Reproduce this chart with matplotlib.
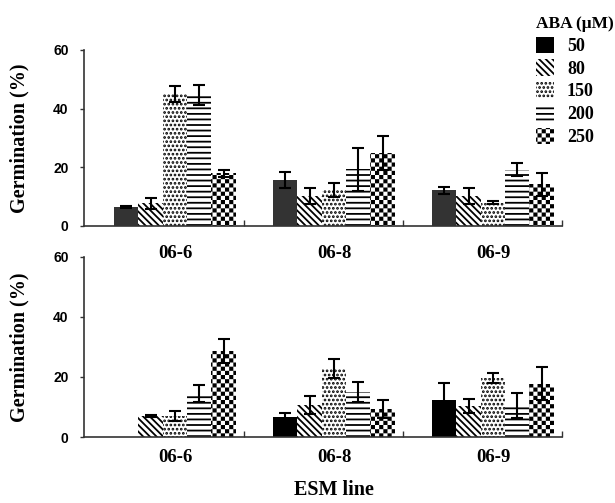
import warnings
import numpy as np
import matplotlib
matplotlib.use('Agg')
import matplotlib.pyplot as plt
import matplotlib.hatch as mhatch
from matplotlib.path import Path
from matplotlib.patches import Patch

warnings.filterwarnings('ignore', message='hatch must consist')

lines = ['06-6', '06-8', '06-9']
aba = ['50', '80', '150', '200', '250']

# germination (%) per ESM line (rows) and ABA dose (columns)
top_mean = np.array([[6.5, 7.7, 45.0, 44.6, 18.0],
                     [15.8, 10.3, 12.3, 19.3, 24.8],
                     [12.2, 10.2, 8.0, 19.2, 14.2]])
top_err = np.array([[0.3, 2.0, 2.7, 3.5, 1.2],
                    [2.7, 2.7, 2.5, 7.3, 5.8],
                    [1.2, 2.8, 0.5, 2.2, 4.0]])

bot_mean = np.array([[0.0, 7.0, 7.0, 14.5, 28.8],
                     [6.8, 10.8, 22.8, 15.0, 9.2],
                     [12.2, 10.3, 19.7, 10.6, 17.8]])
bot_err = np.array([[0.0, 0.4, 1.7, 2.9, 4.0],
                    [1.1, 3.0, 3.3, 3.3, 3.0],
                    [5.8, 2.4, 1.7, 4.2, 5.4]])

plt.rcParams['hatch.linewidth'] = 1.3
HLW = plt.rcParams['hatch.linewidth']


class CheckerHatch(mhatch.HatchPatternBase):
    """black/white checkerboard, used with '#' in the hatch string"""
    def __init__(self, hatch, density):
        self.num_cells = int(hatch.count('#') * density)
        self.num_vertices = self.num_cells ** 2 * 2 * 5

    def set_vertices_and_codes(self, vertices, codes):
        n = self.num_cells
        s = 1.0 / (2 * n)
        d = HLW / 72 / 2  # stroke grows the square, shrink it back
        sq = np.array([[d, d], [s - d, d], [s - d, s - d], [d, s - d], [d, d]])
        parts = []
        for i in range(n):
            for j in range(n):
                parts.append(sq + [2 * i * s, 2 * j * s])
                parts.append(sq + [2 * i * s + s, 2 * j * s + s])
        vertices[:] = np.concatenate(parts)
        codes[:] = np.tile([Path.MOVETO, Path.LINETO, Path.LINETO,
                            Path.LINETO, Path.CLOSEPOLY], n * n * 2)


mhatch._hatch_types.append(CheckerHatch)

hatches = [None, '\\\\\\\\\\', '....', '---', '##']
serif = dict(family='Liberation Serif', weight='bold')
sans = dict(family='Liberation Sans', weight='bold')

fig = plt.figure(figsize=(6.15, 5.03), dpi=100)
ax1 = fig.add_axes([0.1366, 0.5507, 0.7772, 0.3499])
ax2 = fig.add_axes([0.1366, 0.1312, 0.7772, 0.3579])

w = 0.153
x = np.arange(len(lines))

for ax, mean, err, c50, lpad in [(ax1, top_mean, top_err, '#333333', 14),
                                 (ax2, bot_mean, bot_err, 'black', 8.5)]:
    ax.patch.set_visible(False)
    for k in range(len(aba)):
        xpos = x + (k - 2) * w
        face = c50 if k == 0 else 'white'
        ax.bar(xpos, mean[:, k], w, color=face, edgecolor='black',
               linewidth=0, hatch=hatches[k])
        ok = mean[:, k] > 0
        ax.errorbar(xpos[ok], mean[ok, k], yerr=err[ok, k], fmt='none',
                    ecolor='black', elinewidth=1.5, capsize=4.5, capthick=1.5)

    ax.set_xlim(-0.572, 2.434)
    ax.set_ylim(0, 60)
    ax.set_yticks([0, 20, 40, 60])
    ax.set_yticklabels(['0', '20', '40', '60'], fontsize=10, **sans)
    ax.set_xticks(x)
    ax.set_xticklabels(lines, fontsize=13.5, **serif)
    ax.set_xticks(x + 0.434, minor=True)
    ax.tick_params(axis='x', which='major', length=0, pad=lpad)
    ax.tick_params(axis='x', which='minor', direction='in', length=4,
                   width=1, color='#333333')
    ax.tick_params(axis='y', direction='out', length=3, width=1,
                   color='#333333', pad=8)
    for side in ['top', 'right']:
        ax.spines[side].set_visible(False)
    for side in ['left', 'bottom']:
        ax.spines[side].set_color('#333333')
        ax.spines[side].set_linewidth(1.2)
    ax.set_ylabel('Germination (%)', fontsize=14.5, **serif)
    ax.yaxis.set_label_coords(-0.115, 0.5)

fig.text(334 / 615, 1 - 490 / 503, 'ESM line', ha='center', va='center',
         fontsize=14.5, **serif)

handles = [Patch(facecolor='black', edgecolor='black', linewidth=0)]
for h in hatches[1:]:
    handles.append(Patch(facecolor='white', edgecolor='black', linewidth=0,
                         hatch=h))
leg = fig.legend(handles, aba, loc='upper left', bbox_to_anchor=(0.872, 0.968),
                 frameon=False, title='ABA (\u03bcM)', alignment='left',
                 prop=dict(size=13, **serif), handlelength=1.0,
                 handleheight=1.0, handletextpad=0.7, labelspacing=0.25,
                 borderpad=0, borderaxespad=0)
leg.get_title().set_fontproperties(dict(size=12.5, **serif))

fig.savefig('out.png', dpi=100)
